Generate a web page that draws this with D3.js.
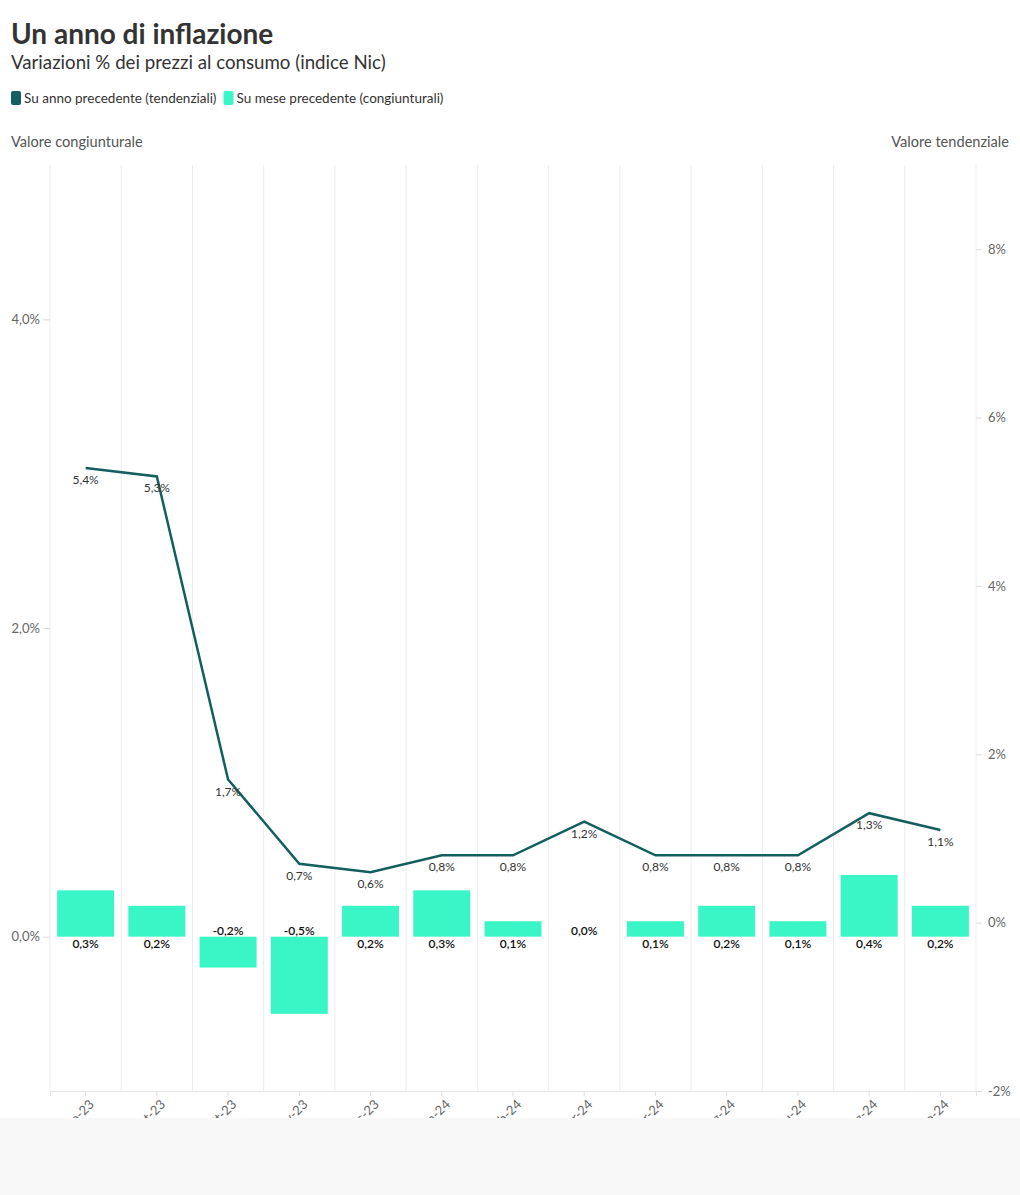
<!DOCTYPE html>
<html>
<head>
<meta charset="utf-8">
<script src="https://cdn.jsdelivr.net/npm/d3@7"></script>
<style>
  body { margin: 0; background: #fff; font-family: Lato, "Noto Sans", sans-serif; }
  svg text { font-family: Lato, "Noto Sans", sans-serif; }
</style>
</head>
<body>
<svg id="chart" width="1020" height="1195"></svg>
<script>
// months shown on the x axis
var months = ["ago-23", "set-23", "ott-23", "nov-23", "dic-23", "gen-24", "feb-24",
              "mar-24", "apr-24", "mag-24", "giu-24", "lug-24", "ago-24"];
// Su mese precedente (congiunturali) - bars, left axis
var congiunturali = [0.3, 0.2, -0.2, -0.5, 0.2, 0.3, 0.1, 0.0, 0.1, 0.2, 0.1, 0.4, 0.2];
// Su anno precedente (tendenziali) - line, right axis
var tendenziali = [5.4, 5.3, 1.7, 0.7, 0.6, 0.8, 0.8, 1.2, 0.8, 0.8, 0.8, 1.3, 1.1];
var leftTicks = [0, 2, 4];
var rightTicks = [-2, 0, 2, 4, 6, 8];

var barColor = "#3af5c6";
var lineColor = "#135f5f";

var svg = d3.select("#chart");
var plotLeft = 50, plotRight = 976, plotTop = 165, plotBottom = 1091;

var fmt = function (v, dec) {
	return v.toFixed(dec).replace(".", ",") + "%";
};

// header
svg.append("text").attr("x", 11).attr("y", 44)
	.attr("font-size", 28).attr("font-weight", 700).attr("fill", "#333")
	.text("Un anno di inflazione");
svg.append("text").attr("x", 11).attr("y", 69)
	.attr("font-size", 18.7).attr("fill", "#333")
	.text("Variazioni % dei prezzi al consumo (indice Nic)");

// legend
var legendItems = [
	{label: "Su anno precedente (tendenziali)", color: lineColor},
	{label: "Su mese precedente (congiunturali)", color: barColor}
];
var lx = 11;
legendItems.forEach(function (d) {
	svg.append("rect").attr("x", lx).attr("y", 91).attr("width", 10).attr("height", 14)
		.attr("rx", 2).attr("fill", d.color);
	var t = svg.append("text").attr("x", lx + 13).attr("y", 103)
		.attr("font-size", 13.5).attr("fill", "#333").text(d.label);
	lx += 13 + t.node().getComputedTextLength() + 7;
});

// axis titles
svg.append("text").attr("x", 11).attr("y", 147)
	.attr("font-size", 14.6).attr("fill", "#555").text("Valore congiunturale");
svg.append("text").attr("x", 1009).attr("y", 147).attr("text-anchor", "end")
	.attr("font-size", 14.6).attr("fill", "#555").text("Valore tendenziale");

// scales
var x = d3.scaleBand().domain(months).range([plotLeft, plotRight]).paddingInner(0.2).paddingOuter(0.1);
var xGrid = d3.scaleBand().domain(months).range([plotLeft, plotRight]);
var yL = d3.scaleLinear().domain([-1, 5]).range([plotBottom, plotTop]);
var yR = d3.scaleLinear().domain([-2, 9]).range([plotBottom, plotTop]);

// vertical gridlines at band boundaries
var bounds = months.map(function (m) { return xGrid(m); }).concat([plotRight]);
svg.append("g").selectAll("line").data(bounds).join("line")
	.attr("x1", function (d) { return d; }).attr("x2", function (d) { return d; })
	.attr("y1", plotTop).attr("y2", plotBottom)
	.attr("stroke", "#ececec").attr("stroke-width", 1);

// left axis
var axL = svg.append("g").attr("transform", "translate(" + plotLeft + ",0)")
	.call(d3.axisLeft(yL).tickValues(leftTicks).tickSize(7).tickPadding(3)
		.tickFormat(function (d) { return fmt(d, 1); }));
axL.select(".domain").remove();
axL.selectAll("line").attr("stroke", "#ddd");
axL.selectAll("text").attr("fill", "#666").attr("font-size", 13);

// right axis
var axR = svg.append("g").attr("transform", "translate(" + plotRight + ",0)")
	.call(d3.axisRight(yR).tickValues(rightTicks).tickSize(6).tickPadding(6)
		.tickFormat(function (d) { return d + "%"; }));
axR.select(".domain").remove();
axR.selectAll("line").attr("stroke", "#ddd");
axR.selectAll("text").attr("fill", "#666").attr("font-size", 13);

// bottom axis
var axB = svg.append("g").attr("transform", "translate(0," + plotBottom + ")")
	.call(d3.axisBottom(x).tickSize(5).tickPadding(4));
axB.select(".domain").attr("stroke", "#e4e4e4");
axB.selectAll("line").attr("stroke", "#ddd");
axB.selectAll("text").attr("fill", "#666").attr("font-size", 13)
	.attr("text-anchor", "end").attr("y", 0).attr("dx", 0).attr("dy", "0.35em")
	.attr("transform", "translate(6,11) rotate(-45)");

// bars
svg.append("g").selectAll("rect").data(congiunturali).join("rect")
	.attr("x", function (d, i) { return x(months[i]); })
	.attr("width", x.bandwidth())
	.attr("y", function (d) { return yL(Math.max(0, d)); })
	.attr("height", function (d) { return Math.abs(yL(d) - yL(0)); })
	.attr("fill", barColor);

// bar labels near the zero line
svg.append("g").selectAll("text").data(congiunturali).join("text")
	.attr("x", function (d, i) { return x(months[i]) + x.bandwidth() / 2; })
	.attr("y", function (d) { return d <= 0 ? yL(0) - 2 : yL(0) + 11; })
	.attr("text-anchor", "middle").attr("font-size", 12).attr("font-weight", 600)
	.attr("fill", "#111")
	.text(function (d) { return fmt(d, 1); });

// line
var line = d3.line()
	.x(function (d, i) { return x(months[i]) + x.bandwidth() / 2; })
	.y(function (d) { return yR(d); });
svg.append("path").datum(tendenziali)
	.attr("d", line).attr("fill", "none")
	.attr("stroke", lineColor).attr("stroke-width", 2.5);

// line labels below points
svg.append("g").selectAll("text").data(tendenziali).join("text")
	.attr("x", function (d, i) { return x(months[i]) + x.bandwidth() / 2; })
	.attr("y", function (d) { return yR(d) + 16; })
	.attr("text-anchor", "middle").attr("font-size", 12)
	.attr("fill", "#333")
	.text(function (d) { return fmt(d, 1); });

// footer
svg.append("rect").attr("x", 0).attr("y", 1118).attr("width", 1020).attr("height", 77)
	.attr("fill", "#f8f8f8");
</script>
</body>
</html>
